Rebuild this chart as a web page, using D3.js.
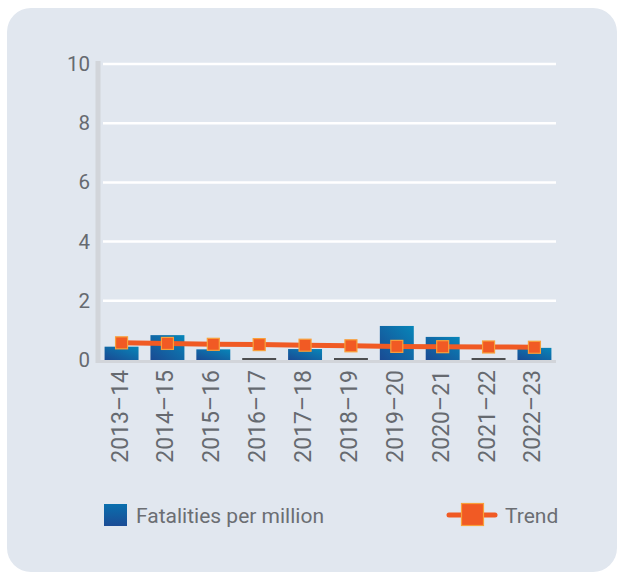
<!DOCTYPE html>
<html>
<head>
<meta charset="utf-8">
<script src="https://cdn.jsdelivr.net/npm/d3@7"></script>
<style>
  html, body { margin: 0; padding: 0; background: #ffffff; }
  svg { display: block; font-family: Roboto, "Noto Sans", sans-serif; }
</style>
</head>
<body>
<svg id="chart" width="617" height="573"></svg>
<script>
// Financial years on the x axis
const years = ["2013–14", "2014–15", "2015–16", "2016–17", "2017–18",
               "2018–19", "2019–20", "2020–21", "2021–22", "2022–23"];
// Fatalities per million (bars)
const fatalities = [0.45, 0.84, 0.36, 0, 0.37, 0, 1.15, 0.78, 0, 0.41];
// Trend line values
const trend = [0.58, 0.56, 0.53, 0.52, 0.50, 0.48, 0.46, 0.45, 0.44, 0.43];
// Y axis ticks
const yTicks = [0, 2, 4, 6, 8, 10];

const svg = d3.select("#chart");

// Rounded background panel
svg.append("rect")
  .attr("x", 7).attr("y", 8)
  .attr("width", 610).attr("height", 564)
  .attr("rx", 24).attr("ry", 24)
  .attr("fill", "#e1e7ef");

const margin = { left: 100, right: 556, top: 64, bottom: 360 };

const x = d3.scaleBand()
  .domain(years)
  .range([margin.left, margin.right])
  .paddingInner(0.26)
  .paddingOuter(0.1);

const y = d3.scaleLinear()
  .domain([0, 10])
  .range([margin.bottom, margin.top]);

// Gradients for bars and legend swatch
const defs = svg.append("defs");
const grad = defs.append("linearGradient")
  .attr("id", "barGrad")
  .attr("x1", "0%").attr("y1", "100%")
  .attr("x2", "100%").attr("y2", "0%");
grad.append("stop").attr("offset", "0%").attr("stop-color", "#1a4a93");
grad.append("stop").attr("offset", "100%").attr("stop-color", "#0786b9");

const legendGrad = defs.append("linearGradient")
  .attr("id", "legendGrad")
  .attr("x1", "0%").attr("y1", "0%")
  .attr("x2", "0%").attr("y2", "100%");
legendGrad.append("stop").attr("offset", "0%").attr("stop-color", "#0a6fae");
legendGrad.append("stop").attr("offset", "100%").attr("stop-color", "#1b4c95");

// Gridlines
svg.append("g")
  .selectAll("line")
  .data(yTicks.filter(d => d > 0))
  .join("line")
  .attr("x1", margin.left + 3).attr("x2", margin.right)
  .attr("y1", d => y(d)).attr("y2", d => y(d))
  .attr("stroke", "#ffffff")
  .attr("stroke-width", 2.5);

// Y axis
const yAxis = d3.axisLeft(y).tickValues(yTicks).tickSize(0).tickPadding(8);
const gy = svg.append("g")
  .attr("transform", `translate(${margin.left - 2},0)`)
  .call(yAxis);
gy.select(".domain").remove();
gy.selectAll("text")
  .attr("font-size", 20.5)
  .attr("fill", "#666a70")
  .attr("font-family", "Roboto, sans-serif");

// Axis lines (gray)
svg.append("line")
  .attr("x1", margin.left - 2).attr("x2", margin.left - 2)
  .attr("y1", margin.top - 3).attr("y2", margin.bottom + 3)
  .attr("stroke", "#d2d5da").attr("stroke-width", 5);
svg.append("line")
  .attr("x1", margin.left - 2).attr("x2", margin.right)
  .attr("y1", margin.bottom + 1.5).attr("y2", margin.bottom + 1.5)
  .attr("stroke", "#d2d5da").attr("stroke-width", 3);

// Bars
svg.append("g")
  .selectAll("rect")
  .data(years.map((yr, i) => ({ yr, v: fatalities[i] })).filter(d => d.v > 0))
  .join("rect")
  .attr("x", d => x(d.yr))
  .attr("y", d => y(d.v))
  .attr("width", x.bandwidth())
  .attr("height", d => y(0) - y(d.v))
  .attr("fill", "url(#barGrad)");

// Zero-value markers
svg.append("g")
  .selectAll("line")
  .data(years.map((yr, i) => ({ yr, v: fatalities[i] })).filter(d => d.v === 0))
  .join("line")
  .attr("x1", d => x(d.yr)).attr("x2", d => x(d.yr) + x.bandwidth())
  .attr("y1", y(0) - 1).attr("y2", y(0) - 1)
  .attr("stroke", "#1b1b1b").attr("stroke-width", 1.5);

// Trend line
const line = d3.line()
  .x((d, i) => x(years[i]) + x.bandwidth() / 2)
  .y(d => y(d));
svg.append("path")
  .datum(trend)
  .attr("d", line)
  .attr("fill", "none")
  .attr("stroke", "#f05a24")
  .attr("stroke-width", 5);

// Trend markers
const ms = 12;
svg.append("g")
  .selectAll("rect")
  .data(trend)
  .join("rect")
  .attr("x", (d, i) => x(years[i]) + x.bandwidth() / 2 - ms / 2)
  .attr("y", d => y(d) - ms / 2)
  .attr("width", ms).attr("height", ms)
  .attr("fill", "#f15a24")
  .attr("stroke", "#f9a03a")
  .attr("stroke-width", 1.2);

// X axis labels (rotated)
svg.append("g")
  .selectAll("text")
  .data(years)
  .join("text")
  .attr("transform", d => `translate(${x(d) + x.bandwidth() / 2 + 6},${margin.bottom + 10}) rotate(-90)`)
  .attr("text-anchor", "end")
  .attr("font-size", 23)
  .attr("fill", "#666a70")
  .text(d => d);

// Legend
const lg = svg.append("g");
lg.append("rect")
  .attr("x", 104).attr("y", 504).attr("width", 23).attr("height", 22)
  .attr("fill", "url(#legendGrad)");
lg.append("text")
  .attr("x", 136).attr("y", 523)
  .attr("font-size", 21).attr("fill", "#6b6e73")
  .text("Fatalities per million");
lg.append("line")
  .attr("x1", 449).attr("x2", 495).attr("y1", 515).attr("y2", 515)
  .attr("stroke", "#f05a24").attr("stroke-width", 5).attr("stroke-linecap", "round");
lg.append("rect")
  .attr("x", 461.5).attr("y", 503.5).attr("width", 22).attr("height", 22)
  .attr("fill", "#f15a24").attr("stroke", "#f9a03a").attr("stroke-width", 1.2);
lg.append("text")
  .attr("x", 505).attr("y", 523)
  .attr("font-size", 21).attr("fill", "#6b6e73")
  .text("Trend");
</script>
</body>
</html>
